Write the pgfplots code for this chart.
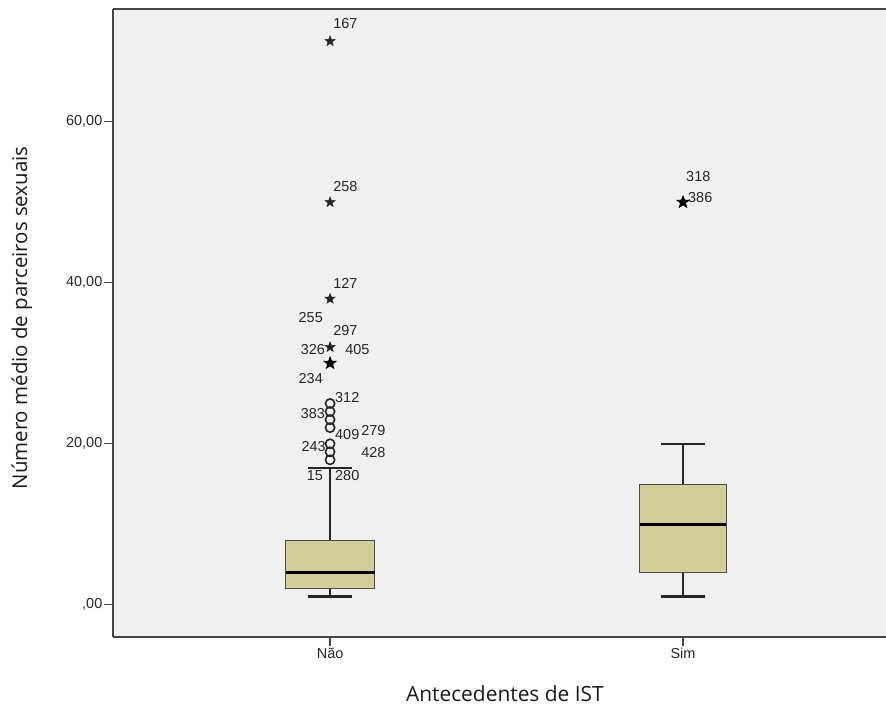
\documentclass[border=0pt]{standalone}
\usepackage{fontspec}
\setmainfont{Open Sans}
\newfontfamily\arialf{Liberation Sans}
\usepackage{pgfplots}
\pgfplotsset{compat=1.18}
\definecolor{bgcol}{RGB}{240,240,240}
\definecolor{boxfill}{RGB}{211,206,153}
\definecolor{axcol}{RGB}{70,70,70}
\pgfdeclareplotmark{fstar}{%
  \pgfpathmoveto{\pgfpointpolar{90}{\pgfplotmarksize}}%
  \pgfpathlineto{\pgfpointpolar{126}{0.42\pgfplotmarksize}}%
  \pgfpathlineto{\pgfpointpolar{162}{\pgfplotmarksize}}%
  \pgfpathlineto{\pgfpointpolar{198}{0.42\pgfplotmarksize}}%
  \pgfpathlineto{\pgfpointpolar{234}{\pgfplotmarksize}}%
  \pgfpathlineto{\pgfpointpolar{270}{0.42\pgfplotmarksize}}%
  \pgfpathlineto{\pgfpointpolar{306}{\pgfplotmarksize}}%
  \pgfpathlineto{\pgfpointpolar{342}{0.42\pgfplotmarksize}}%
  \pgfpathlineto{\pgfpointpolar{18}{\pgfplotmarksize}}%
  \pgfpathlineto{\pgfpointpolar{54}{0.42\pgfplotmarksize}}%
  \pgfpathclose
  \pgfusepathqfillstroke
}
\newcommand\tf{\arialf\fontsize{14.5}{16}\selectfont}
\begin{document}
\begin{tikzpicture}
\begin{axis}[
  scale only axis,
  width=773bp, height=628bp,
  xmin=0.385, xmax=2.575,
  ymin=-4, ymax=74,
  axis x line=box, axis y line=left,
  axis line style={-, draw=axcol, line width=1.3bp},
  axis background/.style={fill=bgcol},
  xtick={1,2}, xticklabels={Não,Sim},
  ytick={0,20,40,60}, yticklabels={{,00},{20,00},{40,00},{60,00}},
  xtick pos=left, ytick pos=left,
  tick align=outside,
  major tick length=9bp,
  tick style={draw=axcol, line width=1.3bp},
  ticklabel style={font=\tf, text=black!85},
  yticklabel style={inner sep=1.5bp},
  xticklabel style={inner sep=2bp},
  clip=false,
]
% ---- Não: whiskers, box, median ----
\addplot[black!85, line width=2bp] coordinates {(1,8) (1,17)};
\addplot[black!85, line width=2bp] coordinates {(1,1) (1,2)};
\addplot[black!85, line width=2.5bp] coordinates {(0.9375,17) (1.0625,17)};
\addplot[black!85, line width=2.5bp] coordinates {(0.9375,1) (1.0625,1)};
\addplot[draw=black!70, fill=boxfill, line width=1bp] coordinates {(0.874,2) (1.126,2) (1.126,8) (0.874,8)} --cycle;
\addplot[black, line width=3bp] coordinates {(0.874,4) (1.126,4)};
% ---- Sim: whiskers, box, median ----
\addplot[black!85, line width=2bp] coordinates {(2,15) (2,20)};
\addplot[black!85, line width=2bp] coordinates {(2,1) (2,4)};
\addplot[black!85, line width=2.5bp] coordinates {(1.9375,20) (2.0625,20)};
\addplot[black!85, line width=2.5bp] coordinates {(1.9375,1) (2.0625,1)};
\addplot[draw=black!70, fill=boxfill, line width=1bp] coordinates {(1.878,4) (2.1225,4) (2.1225,15) (1.878,15)} --cycle;
\addplot[black, line width=3bp] coordinates {(1.878,10) (2.1225,10)};
% outliers (circles)
\addplot[only marks, mark=o, mark size=4.6bp, line width=1.6bp, black!85]
  coordinates {(1,25)(1,24)(1,23)(1,22)(1,20)(1,19)(1,18)};
% extremes (stars)
\addplot[only marks, mark=fstar, mark size=5.5bp, line width=0.4bp, draw=black!85, fill=black!85]
  coordinates {(1,70)(1,50)(1,38)(1,32)};
\addplot[only marks, mark=fstar, mark size=6bp, line width=1bp, draw=black, fill=black]
  coordinates {(1,30)(2,50)};
% case labels
\begin{scope}[every node/.style={font=\tf, text=black!85, inner sep=0pt}]
\node[anchor=west] at (axis cs:1.0085,72.2) {167};
\node[anchor=west] at (axis cs:1.0085,51.95) {258};
\node[anchor=west] at (axis cs:1.0085,39.9) {127};
\node[anchor=west] at (axis cs:1.0085,34.1) {297};
\node[anchor=west] at (axis cs:1.0425,31.7) {405};
\node[anchor=west] at (axis cs:1.014,25.8) {312};
\node[anchor=west] at (axis cs:1.014,21.1) {409};
\node[anchor=west] at (axis cs:1.088,21.7) {279};
\node[anchor=west] at (axis cs:1.088,18.9) {428};
\node[anchor=west] at (axis cs:1.014,16.1) {280};
\node[anchor=west] at (axis cs:2.0085,53.2) {318};
\node[anchor=west] at (axis cs:2.014,50.6) {386};
\node[anchor=east] at (axis cs:0.980,35.7) {255};
\node[anchor=east] at (axis cs:0.986,31.7) {326};
\node[anchor=east] at (axis cs:0.980,28.1) {234};
\node[anchor=east] at (axis cs:0.986,23.7) {383};
\node[anchor=east] at (axis cs:0.988,19.6) {243};
\node[anchor=east] at (axis cs:0.980,16.1) {15};
\end{scope}
\node[font=\fontsize{21}{24}\selectfont, text=black!90] at (rel axis cs:0.507,-0.0900) {Antecedentes de IST};
\node[font=\fontsize{20.5}{24}\selectfont, text=black!90, rotate=90] at (rel axis cs:-0.1180,0.508) {Número médio de parceiros sexuais};
\end{axis}
\pgfresetboundingbox
\path ([xshift=-113bp,yshift=-71bp]current axis.south west) rectangle ([yshift=9bp]current axis.north east);
\end{tikzpicture}
\end{document}
